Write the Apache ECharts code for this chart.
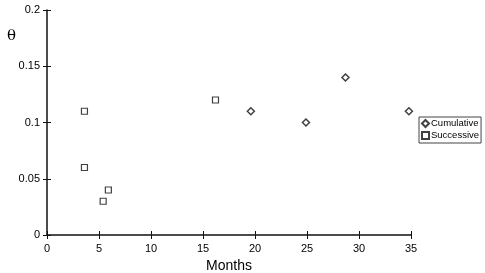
<!DOCTYPE html>
<html>
<head>
<meta charset="utf-8">
<script src="https://cdn.jsdelivr.net/npm/echarts@6/dist/echarts.min.js"></script>
<style>
html, body { margin: 0; padding: 0; background: #fff; }
#chart { width: 485px; height: 273px; }
</style>
</head>
<body>
<div id="chart"></div>
<script>
// 数据
var cumulativeMonths = [19.6, 24.9, 28.7, 34.8];
var cumulativeTheta = [0.11, 0.10, 0.14, 0.11];
var successiveMonths = [3.6, 3.6, 5.4, 5.9, 16.2];
var successiveTheta = [0.11, 0.06, 0.03, 0.04, 0.12];

function pairs(xs, ys) {
    var out = [];
    for (var i = 0; i < xs.length; i++) out.push([xs[i], ys[i]]);
    return out;
}

var fontSans = 'Liberation Sans, Arial, sans-serif';

var myChart = echarts.init(document.getElementById('chart'));
var option = {
    backgroundColor: '#fff',
    animation: false,
    grid: { left: 47, right: 74, top: 10, bottom: 38, containLabel: false, outerBoundsMode: 'none' },
    legend: {
        orient: 'vertical',
        left: 419,
        top: 117,
        itemWidth: 7,
        itemHeight: 7,
        itemGap: 1,
        padding: [1, 2, 2, 2],
        borderColor: '#444',
        borderWidth: 1,
        textStyle: { color: '#000', fontSize: 9.5, lineHeight: 11, fontFamily: fontSans, padding: [0, 0, 0, -3] },
        data: ['Cumulative', 'Successive']
    },
    xAxis: [{
        type: 'value',
        min: 0, max: 35, interval: 5,
        name: 'Months',
        nameLocation: 'middle',
        nameGap: 20,
        nameTextStyle: { color: '#000', fontSize: 14, fontFamily: fontSans },
        axisLine: { lineStyle: { color: '#111', width: 1.5 } },
        axisTick: { show: true, length: 4, lineStyle: { color: '#111' } },
        axisLabel: { color: '#000', fontSize: 11, fontFamily: fontSans, margin: 8 },
        splitLine: { show: false }
    }, {
        type: 'value',
        position: 'bottom',
        min: 0, max: 35, interval: 5,
        axisLine: { show: false },
        axisTick: { show: true, inside: true, length: 4, lineStyle: { color: '#111' } },
        axisLabel: { show: false },
        splitLine: { show: false }
    }],
    yAxis: [{
        type: 'value',
        min: 0, max: 0.2, interval: 0.05,
        name: 'θ',
        nameLocation: 'end',
        nameGap: 0,
        nameTextStyle: { color: '#000', fontSize: 15, fontFamily: 'DejaVu Serif, Liberation Serif, serif', align: 'left', padding: [0, 0, -34, -40] },
        axisLine: { show: true, lineStyle: { color: '#111', width: 1.5 } },
        axisTick: { show: true, length: 4, lineStyle: { color: '#111' } },
        axisLabel: {
            color: '#000', fontSize: 11, fontFamily: fontSans, margin: 7,
            formatter: function (v) { return v === 0 ? '0' : String(+v.toFixed(2)); }
        },
        splitLine: { show: false }
    }, {
        type: 'value',
        position: 'left',
        min: 0, max: 0.2, interval: 0.05,
        axisLine: { show: false },
        axisTick: { show: true, inside: true, length: 4, lineStyle: { color: '#111' } },
        axisLabel: { show: false },
        splitLine: { show: false }
    }],
    series: [{
        name: 'Cumulative',
        type: 'scatter',
        symbol: 'diamond',
        symbolSize: 7,
        itemStyle: { color: '#fff', borderColor: '#111', borderWidth: 1.5 },
        data: pairs(cumulativeMonths, cumulativeTheta)
    }, {
        name: 'Successive',
        type: 'scatter',
        symbol: 'rect',
        symbolSize: 6,
        itemStyle: { color: '#fff', borderColor: '#111', borderWidth: 1.2 },
        data: pairs(successiveMonths, successiveTheta)
    }]
};
myChart.setOption(option);
</script>
</body>
</html>
